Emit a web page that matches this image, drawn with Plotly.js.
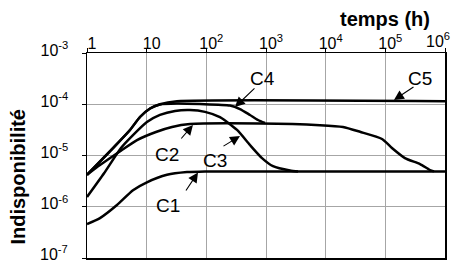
<!DOCTYPE html>
<html>
<head>
<meta charset="utf-8">
<script src="https://cdn.plot.ly/plotly-3.0.1.min.js"></script>
<style>html,body{margin:0;padding:0;background:#fff}#chart{width:458px;height:264px}</style>
</head>
<body>
<div id="chart"></div>
<script>
// Data (time in hours, unavailability)
const c1T = [1, 1.65, 3.18, 5.9, 10.1, 21.9, 47.4, 95, 1e6];
const c1V = [4.6e-7, 6.0e-7, 1.08e-6, 2.1e-6, 3.0e-6, 4.2e-6, 4.75e-6, 4.9e-6, 4.9e-6];

const c2T = [1, 1.65, 3.44, 6.89, 14.3, 26.6, 53.2, 800, 8000, 19500, 37600, 88000, 129000, 213000, 381000, 560000, 654000];
const c2V = [4.2e-6, 6.5e-6, 1.17e-5, 2.0e-5, 2.88e-5, 3.6e-5, 4.1e-5, 4.2e-5, 3.9e-5, 3.6e-5, 2.9e-5, 2.1e-5, 1.4e-5, 8.9e-6, 6.8e-6, 5.2e-6, 4.9e-6];

const c3T = [1, 1.93, 3.71, 5.9, 10.1, 16.7, 29.9, 53.2, 95, 169, 327, 539, 857, 1310, 2520, 3440];
const c3V = [1.55e-6, 4.5e-6, 1.4e-5, 2.5e-5, 4.5e-5, 6.2e-5, 7.4e-5, 7.7e-5, 7.1e-5, 5.6e-5, 3.15e-5, 1.6e-5, 8.9e-6, 6.2e-6, 5.1e-6, 4.9e-6];

const c4T = [1, 2.73, 5.26, 7.73, 11.4, 16.7, 32.2, 78.3, 249, 366, 539, 734, 962];
const c4V = [4.2e-6, 1.4e-5, 3.15e-5, 5.64e-5, 8.26e-5, 9.9e-5, 1.035e-4, 1.01e-4, 9.46e-5, 8.07e-5, 6.17e-5, 4.93e-5, 4.3e-5];

const c5T = [1, 2.73, 5.26, 7.73, 11.4, 16.7, 32.2, 1e6];
const c5V = [4.2e-6, 1.4e-5, 3.15e-5, 5.64e-5, 8.26e-5, 1.0e-4, 1.15e-4, 1.15e-4];

const xTickVals = [1, 10, 100, 1000, 10000, 100000, 1000000];
const xTickText = ['1', '10', '10<sup>2</sup>', '10<sup>3</sup>', '10<sup>4</sup>', '10<sup>5</sup>', '10<sup>6</sup>'];
const yTickVals = [1e-7, 1e-6, 1e-5, 1e-4, 1e-3];
const yTickText = ['10<sup>-7</sup>', '10<sup>-6</sup>', '10<sup>-5</sup>', '10<sup>-4</sup>', '10<sup>-3</sup>'];

const curveNames = ['C1', 'C2', 'C3', 'C4', 'C5'];
// label positions (log10 units) and arrow tips / tail offsets
const labelX = [1.357, 1.341, 2.145, 2.933, 5.581];
const labelY = [-5.966, -4.980, -5.098, -3.507, -3.507];
const arrowX = [1.860, 1.776, 2.564, 2.480, 5.145];
const arrowY = [-5.332, -4.405, -4.620, -4.054, -3.917];
const arrowAX = [-13, -13, -18, 21, 21];
const arrowAY = [19.5, 15, 11, -20, -14];

const FONT = 'Liberation Sans, Arial, Helvetica, sans-serif';
const series = [[c1T, c1V], [c2T, c2V], [c3T, c3V], [c4T, c4V], [c5T, c5V]];
const traces = series.map((s, i) => ({
  x: s[0], y: s[1], name: curveNames[i], type: 'scatter', mode: 'lines',
  line: {color: '#000', width: 2.5, shape: 'spline', smoothing: 0.6},
  hoverinfo: 'skip'
}));

// edge tick labels (10^-7 and 10^6) are drawn as notes so they stay inside the page
const yAxisText = yTickText.map((t, i) => (i === 0 ? '' : t));
const xAxisText = xTickText.map((t, i) => (i === xTickText.length - 1 ? '' : t));

const annotations = [];
for (let i = 0; i < curveNames.length; i++) {
  annotations.push({
    x: labelX[i], y: labelY[i], xref: 'x', yref: 'y', text: curveNames[i],
    showarrow: false, font: {family: FONT, size: 19, color: '#000'},
    xanchor: 'center', yanchor: 'middle'
  });
  annotations.push({
    x: arrowX[i], y: arrowY[i], xref: 'x', yref: 'y', text: '',
    showarrow: true, arrowhead: 2, arrowsize: 1.8, arrowwidth: 1.1, arrowcolor: '#000',
    ax: arrowAX[i], ay: arrowAY[i]
  });
}
annotations.push({
  x: -0.0475, y: 0.024, xref: 'paper', yref: 'paper', text: yTickText[0],
  showarrow: false, font: {family: FONT, size: 16, color: '#000'},
  xanchor: 'right', yanchor: 'middle'
});
annotations.push({
  x: 0.980, y: 1.005, xref: 'paper', yref: 'paper', text: xTickText[xTickText.length - 1],
  showarrow: false, font: {family: FONT, size: 16, color: '#000'},
  xanchor: 'center', yanchor: 'bottom'
});
annotations.push({
  x: 0.832, y: 1.165, xref: 'paper', yref: 'paper', text: '<b>temps (h)</b>',
  showarrow: false, font: {family: FONT, size: 20, color: '#000'},
  xanchor: 'center', yanchor: 'middle'
});
annotations.push({
  x: -0.194, y: 0.395, xref: 'paper', yref: 'paper', text: '<b>Indisponibilité</b>',
  textangle: -90, showarrow: false, font: {family: FONT, size: 20, color: '#000'},
  xanchor: 'center', yanchor: 'middle'
});

const layout = {
  width: 458, height: 264,
  margin: {l: 87, r: 13, t: 53, b: 6, pad: 0},
  paper_bgcolor: '#fff', plot_bgcolor: '#fff',
  showlegend: false,
  font: {family: FONT, size: 16, color: '#000'},
  xaxis: {
    type: 'log', range: [0, 6], side: 'top',
    tickvals: xTickVals, ticktext: xAxisText,
    showgrid: true, gridcolor: '#a6a6a6', gridwidth: 1,
    showline: true, linecolor: '#000', linewidth: 1.5, mirror: true,
    ticks: 'outside', ticklen: 4, tickcolor: '#000', tickwidth: 1,
    ticklabelstandoff: -8, ticklabelshift: 5,
    tickfont: {family: FONT, size: 16, color: '#000'},
    zeroline: false, fixedrange: true
  },
  yaxis: {
    type: 'log', range: [-7, -3],
    tickvals: yTickVals, ticktext: yAxisText,
    showgrid: true, gridcolor: '#a6a6a6', gridwidth: 1,
    showline: true, linecolor: '#000', linewidth: 1.5, mirror: true,
    ticks: 'outside', ticklen: 4, tickcolor: '#000', tickwidth: 1,
    ticklabelstandoff: 10, ticklabelshift: -3,
    tickfont: {family: FONT, size: 16, color: '#000'},
    zeroline: false, fixedrange: true
  },
  annotations: annotations
};

Plotly.newPlot('chart', traces, layout, {displayModeBar: false, staticPlot: true});
</script>
</body>
</html>
